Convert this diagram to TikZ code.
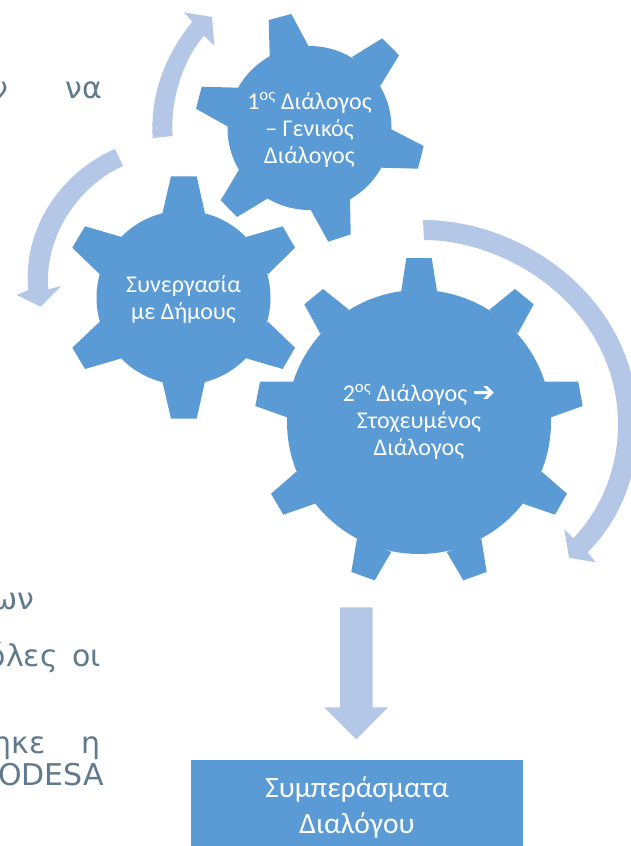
\documentclass[tikz,border=0pt]{standalone}
\usepackage{fontspec}
\setmainfont{Carlito}
\newfontfamily\bodyfont{DejaVu Sans}
\newfontfamily\arrowfont{DejaVu Sans}
\definecolor{gearblue}{HTML}{5B9BD5}
\definecolor{arrowblue}{HTML}{B4C7E7}
\definecolor{bodygrey}{HTML}{5F7A8C}
\tikzset{
  gearhub/.style={circle, fill=gearblue, inner sep=0pt, align=center, text=white, font=\fontsize{24}{27}\selectfont},
  gearteeth/.style={fill=gearblue},
  bluearrow/.style={fill=arrowblue},
  resultbox/.style={rectangle, fill=gearblue, inner sep=0pt, align=center, text=white, minimum width=332pt, minimum height=86pt, font=\fontsize{29.5}{36}\selectfont},
  bodytext/.style={anchor=base east, inner sep=0pt, text=bodygrey, font=\bodyfont\fontsize{30}{35}\selectfont}
}
\begin{document}
\begin{tikzpicture}[x=1pt,y=-1pt]
  \useasboundingbox (0,0) rectangle (631,846);
  \clip (0,0) rectangle (631,846);

  % text of the page behind the figure
  \node[bodytext] (linea) at (8,98) {ν};
  \node[bodytext] (lineb) at (102.5,98) {να};
  \node[bodytext] (linec) at (34.5,609) {ων};
  \node[bodytext] (lined) at (58,666) {όλες};
  \node[bodytext] (linee) at (101,666) {οι};
  \node[bodytext] (linef) at (46,753) {ηκε};
  \node[bodytext] (lineg) at (100.5,753) {η};
  \node[bodytext] (lineh) at (104,785) {ODESA};

  % arrows
  \fill[bluearrow] (152.7,138) .. controls (150,95) and (165,55) .. (192.3,21.7) -- (184,12.3) -- (212,17) -- (214.3,45.7) -- (204,35.7) .. controls (183,60) and (170,100) .. (172.7,136) -- cycle;
  \fill[bluearrow] (115,149) .. controls (65,170) and (22,225) .. (28.3,290) -- (16.7,295) -- (40.7,306.7) -- (61,286) -- (48.3,289.3) .. controls (44,235) and (80,185) .. (123,166) -- cycle;
  \fill[bluearrow] (423,220) .. controls (525,220) and (638,300) .. (638,425) .. controls (638,475) and (620,520) .. (587.7,552.3) -- (595.7,562.3) -- (569,557.7) -- (564.3,529) -- (573.3,538.3) .. controls (600,510) and (618,470) .. (618,425) .. controls (618,310) and (510,240) .. (424,240) -- cycle;
  \fill[bluearrow] (340,607.3) -- (372.5,607.3) -- (372.5,707.3) -- (388,707.3) -- (356.3,739.3) -- (324.3,707.3) -- (340,707.3) -- cycle;

  % first gear
  \fill[gearteeth] (269.7,56.7) -- (268.7,20) -- (291.3,14) -- (308.3,45.7) -- cycle;
  \fill[gearteeth] (352,57) -- (382.3,38.3) -- (399,55.3) -- (380.3,86) -- cycle;
  \fill[gearteeth] (391.3,129.3) -- (423.7,146) -- (418,168.7) -- (381.3,167.7) -- cycle;
  \fill[gearteeth] (350,199) -- (350.7,234.3) -- (328.3,241.7) -- (310.7,210) -- cycle;
  \fill[gearteeth] (268,198.3) -- (237,217) -- (220.7,200.3) -- (239,169.7) -- cycle;
  \fill[gearteeth] (228,126.7) -- (196,108.7) -- (201.7,86.7) -- (238.3,87.7) -- cycle;
  \node[gearhub, minimum size=164pt] (geara) at (309.5,128) {};
  \node[gearhub, fill=none] (gearatext) at (309.5,129.5) {1\textsuperscript{ος} Διάλογος\\– Γενικός\\Διάλογος};

  % second gear
  \fill[gearteeth] (162.3,213.7) -- (171,176.3) -- (196.7,176.3) -- (205,213.7) -- cycle;
  \fill[gearteeth] (246,237) -- (282.7,226.3) -- (295,247.7) -- (268,274.3) -- cycle;
  \fill[gearteeth] (268,321.7) -- (295,347.7) -- (282.7,369) -- (246,358.3) -- cycle;
  \fill[gearteeth] (205,381.3) -- (196.7,418.7) -- (171,418.7) -- (162.3,381.3) -- cycle;
  \fill[gearteeth] (121.7,358.3) -- (85,369) -- (72.3,347.7) -- (99.7,321.7) -- cycle;
  \fill[gearteeth] (99.7,274.3) -- (72.3,247.7) -- (85,226.3) -- (121.7,237) -- cycle;
  \node[gearhub, minimum size=174pt] (gearb) at (183.5,297.7) {};
  \node[gearhub, fill=none] (gearbtext) at (183.5,299.7) {Συνεργασία\\με Δήμους};

  % third gear
  \fill[gearteeth] (401.3,291) -- (406.3,258) -- (431.7,258) -- (437,291) -- cycle;
  \fill[gearteeth] (489.3,309.7) -- (515,289) -- (533.7,304.3) -- (517.7,333.7) -- cycle;
  \fill[gearteeth] (544.7,381.7) -- (578.3,381.7) -- (582.7,406) -- (551,417.3) -- cycle;
  \fill[gearteeth] (541.7,471.7) -- (567,493.7) -- (555,514.7) -- (523,503.7) -- cycle;
  \fill[gearteeth] (481.3,538.3) -- (486.7,572) -- (463.3,580.3) -- (446.7,552) -- cycle;
  \fill[gearteeth] (391.3,552) -- (374.7,580.3) -- (351.3,572) -- (357,538.3) -- cycle;
  \fill[gearteeth] (315,503.7) -- (283.3,514.7) -- (271,493.7) -- (296.3,471.7) -- cycle;
  \fill[gearteeth] (287,417.3) -- (255.3,406) -- (260,381.7) -- (293.3,381.7) -- cycle;
  \fill[gearteeth] (320.3,333.7) -- (304.3,304.3) -- (323,289) -- (349,309.7) -- cycle;
  \node[gearhub, minimum size=264pt] (gearc) at (419,422) {2\textsuperscript{ος} Διάλογος {\arrowfont\fontsize{27}{27}\selectfont ➔}\\Στοχευμένος\\Διάλογος};

  \node[resultbox] (result) at (357,803) {};
  \node[resultbox, fill=none, minimum height=0pt] (resulttext) at (357,807.5) {Συμπεράσματα\\Διαλόγου};
\end{tikzpicture}
\end{document}
